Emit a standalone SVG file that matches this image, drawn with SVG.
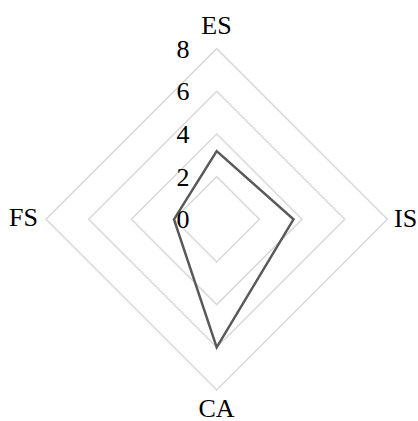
<svg xmlns="http://www.w3.org/2000/svg" width="418" height="421" viewBox="0 0 418 421">
<style>
.grid{fill:none;stroke:#d9d9d9;stroke-width:1.5}
.data{fill:none;stroke:#595959;stroke-width:2.5;stroke-linejoin:miter}
.t{font-family:'Liberation Serif','Times New Roman',Times,serif;font-size:26px;fill:#000}
.tick{text-anchor:end}
</style>
<rect width="418" height="421" fill="#fff"/>
<g id="grid">
<polygon class="grid" points="216.7,176.6 259.4,219.3 216.7,262 174,219.3"/>
<polygon class="grid" points="216.7,134 302,219.3 216.7,304.6 131.4,219.3"/>
<polygon class="grid" points="216.7,91.3 344.7,219.3 216.7,347.3 88.7,219.3"/>
<polygon class="grid" points="216.7,48.6 387.4,219.3 216.7,390 46,219.3"/>
</g>
<g id="series">
<polygon class="data" points="216.7,151.1 293.5,219.3 216.7,347.3 174,219.3"/>
</g>
<g id="ticks" font-family="Liberation Serif, serif">
<text class="t tick" x="189.5" y="228.3">0</text>
<text class="t tick" x="189.5" y="185.6">2</text>
<text class="t tick" x="189.5" y="143">4</text>
<text class="t tick" x="189.5" y="100.3">6</text>
<text class="t tick" x="189.5" y="57.6">8</text>
</g>
<g id="axis-ES"><text class="t" x="216.5" y="34" text-anchor="middle">ES</text></g>
<g id="axis-IS"><text class="t" x="394" y="226.5">IS</text></g>
<g id="axis-CA"><text class="t" x="216.5" y="416.5" text-anchor="middle">CA</text></g>
<g id="axis-FS"><text class="t" x="38" y="226" text-anchor="end">FS</text></g>
</svg>
